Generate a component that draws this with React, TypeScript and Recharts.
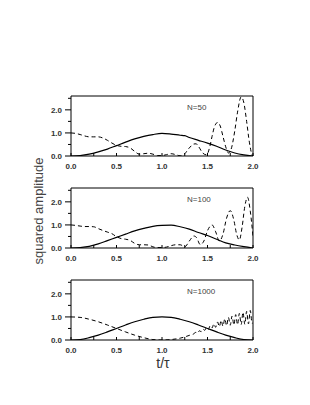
import React from 'react';
import { LineChart, Line, XAxis, YAxis, ReferenceLine } from 'recharts';

// time axis ticks / labels
const xTicks = [0, 0.25, 0.5, 0.75, 1, 1.25, 1.5, 1.75, 2];
const yTicks = [0, 0.5, 1, 1.5, 2, 2.5];

// N=50
const t50Solid = [0, 0.1, 0.2, 0.3, 0.4, 0.5, 0.6, 0.7, 0.8, 0.9, 1.0, 1.1, 1.2, 1.25, 1.3, 1.4, 1.5, 1.6, 1.7, 1.8, 1.9, 2.0];
const solid50 = [0, 0.02, 0.08, 0.18, 0.3, 0.45, 0.6, 0.74, 0.85, 0.93, 0.98, 0.95, 0.9, 0.88, 0.8, 0.68, 0.56, 0.42, 0.26, 0.13, 0.05, 0];
const t50Dash = [0, 0.05, 0.1, 0.15, 0.2, 0.25, 0.3, 0.35, 0.4, 0.45, 0.5, 0.55, 0.6, 0.65, 0.7, 0.75, 0.8, 0.85, 0.9, 0.95, 1.0, 1.05, 1.1, 1.15, 1.2, 1.25, 1.3, 1.35, 1.375, 1.4, 1.45, 1.49, 1.525, 1.55, 1.575, 1.61, 1.64, 1.67, 1.7, 1.73, 1.76, 1.8, 1.83, 1.87, 1.9, 1.93, 1.96, 1.99, 2.0];
const dash50 = [1.0, 0.98, 0.93, 0.87, 0.83, 0.83, 0.83, 0.78, 0.68, 0.56, 0.46, 0.42, 0.41, 0.35, 0.2, 0.08, 0.1, 0.12, 0.08, 0.02, 0.02, 0.06, 0.1, 0.06, 0.01, 0.1, 0.35, 0.52, 0.53, 0.42, 0.12, 0.05, 0.4, 0.85, 1.25, 1.45, 1.3, 0.85, 0.4, 0.13, 0.3, 1.1, 1.9, 2.56, 2.3, 1.5, 0.6, 0.05, 0];

// N=100
const t100Solid = [0, 0.1, 0.2, 0.3, 0.4, 0.5, 0.6, 0.7, 0.8, 0.9, 1.0, 1.1, 1.2, 1.3, 1.4, 1.5, 1.6, 1.7, 1.8, 1.9, 2.0];
const solid100 = [0, 0.02, 0.07, 0.18, 0.32, 0.46, 0.6, 0.74, 0.85, 0.94, 0.98, 0.99, 0.92, 0.82, 0.67, 0.54, 0.38, 0.22, 0.13, 0.06, 0];
const t100Dash = [0, 0.05, 0.1, 0.15, 0.2, 0.25, 0.3, 0.35, 0.4, 0.45, 0.5, 0.55, 0.6, 0.65, 0.7, 0.75, 0.8, 0.85, 0.9, 0.95, 1.0, 1.05, 1.1, 1.15, 1.2, 1.25, 1.3, 1.35, 1.38, 1.42, 1.46, 1.5, 1.55, 1.59, 1.63, 1.67, 1.71, 1.75, 1.79, 1.82, 1.85, 1.88, 1.91, 1.94, 1.97, 2.0];
const dash100 = [1.0, 0.98, 0.95, 0.93, 0.93, 0.92, 0.84, 0.76, 0.69, 0.62, 0.49, 0.41, 0.38, 0.33, 0.2, 0.14, 0.14, 0.13, 0.05, 0.02, 0.02, 0.04, 0.1, 0.14, 0.14, 0.05, 0.3, 0.52, 0.45, 0.15, 0.3, 0.75, 1.0, 0.7, 0.3, 0.6, 1.3, 1.62, 1.2, 0.6, 0.35, 0.9, 1.8, 2.2, 1.6, 0.5];

// N=1000
const t1000Solid = [0, 0.1, 0.2, 0.3, 0.4, 0.5, 0.6, 0.7, 0.8, 0.9, 1.0, 1.1, 1.2, 1.3, 1.4, 1.5, 1.6, 1.7, 1.8, 1.9, 2.0];
const solid1000 = [0, 0.02, 0.1, 0.21, 0.35, 0.5, 0.65, 0.79, 0.9, 0.98, 1.0, 0.98, 0.9, 0.79, 0.65, 0.5, 0.35, 0.21, 0.1, 0.02, 0];
const t1000Dash = [0, 0.1, 0.2, 0.3, 0.4, 0.5, 0.6, 0.7, 0.8, 0.9, 1.0, 1.1, 1.2, 1.3, 1.35, 1.37, 1.39, 1.41, 1.43, 1.45, 1.47, 1.49, 1.51, 1.53, 1.55, 1.57, 1.59, 1.61, 1.63, 1.65, 1.67, 1.69, 1.71, 1.73, 1.75, 1.77, 1.79, 1.81, 1.83, 1.85, 1.87, 1.89, 1.91, 1.93, 1.95, 1.97, 1.99, 2.0];
const dash1000 = [1.0, 0.98, 0.9, 0.79, 0.65, 0.5, 0.35, 0.21, 0.1, 0.02, 0.0, 0.02, 0.08, 0.2, 0.27, 0.33, 0.3, 0.4, 0.36, 0.47, 0.42, 0.55, 0.47, 0.62, 0.52, 0.7, 0.55, 0.78, 0.58, 0.85, 0.6, 0.92, 0.62, 0.98, 0.64, 1.04, 0.65, 1.1, 0.66, 1.15, 0.67, 1.2, 0.68, 1.24, 0.7, 1.28, 0.72, 0.75];

const zip = (t: number[], v: number[]) => t.map((x, i) => ({ t: x, v: v[i] }));

const FONT = '"Liberation Sans", Arial, sans-serif';

const XTick = ({ x, y, payload }: any) => {
  const v = Number(payload.value);
  const major = Math.abs(v * 2 - Math.round(v * 2)) < 1e-6;
  return (
    <g>
      <line x1={x} x2={x} y1={y} y2={y - 3} stroke="#000" />
      {major && (
        <text x={x} y={y + 13} textAnchor="middle" fontSize={8} fontWeight="bold" fill="#333" fontFamily={FONT}>
          {v.toFixed(1)}
        </text>
      )}
    </g>
  );
};

const YTick = ({ x, y, payload }: any) => {
  const v = Number(payload.value);
  const major = Math.abs(v - Math.round(v)) < 1e-6;
  return (
    <g>
      <line x1={x - (major ? 6 : 3)} x2={x} y1={y} y2={y} stroke="#000" />
      {major && (
        <text x={x - 9} y={y + 3} textAnchor="end" fontSize={8} fontWeight="bold" fill="#333" fontFamily={FONT}>
          {v.toFixed(1)}
        </text>
      )}
    </g>
  );
};

const Panel = ({ top, solid, dash, label }: any) => (
  <div style={{ position: 'absolute', left: 0, top: top - 10 }}>
    <LineChart width={310} height={92} margin={{ top: 10, right: 57, left: 0, bottom: 0 }}>
      <XAxis
        dataKey="t"
        type="number"
        domain={[0, 2]}
        ticks={xTicks}
        interval={0}
        tick={<XTick />}
        tickLine={false}
        tickSize={0}
        tickMargin={0}
        height={22}
        stroke="#000"
        allowDataOverflow
      />
      <YAxis
        type="number"
        domain={[0, 2.6]}
        ticks={yTicks}
        interval={0}
        tick={<YTick />}
        tickLine={false}
        tickSize={0}
        tickMargin={0}
        width={71}
        stroke="#000"
        allowDataOverflow
      />
      <ReferenceLine y={2.6} stroke="#000" />
      <ReferenceLine x={2} stroke="#000" />
      <Line data={solid} dataKey="v" stroke="#000" strokeWidth={1.2} dot={false} type="monotone" isAnimationActive={false} />
      <Line data={dash} dataKey="v" stroke="#000" strokeWidth={1} strokeDasharray="4 3" dot={false} type="monotone" isAnimationActive={false} />
    </LineChart>
    <div style={{ position: 'absolute', left: 187, top: 18, fontSize: 8, fontFamily: FONT, color: '#444', lineHeight: '8px' }}>
      {label}
    </div>
  </div>
);

const App = () => (
  <div style={{ position: 'absolute', left: 0, top: 0, width: 310, height: 405, background: '#fff' }}>
    <Panel top={96} solid={zip(t50Solid, solid50)} dash={zip(t50Dash, dash50)} label="N=50" />
    <Panel top={188} solid={zip(t100Solid, solid100)} dash={zip(t100Dash, dash100)} label="N=100" />
    <Panel top={280} solid={zip(t1000Solid, solid1000)} dash={zip(t1000Dash, dash1000)} label="N=1000" />
    <div
      style={{
        position: 'absolute',
        left: 38,
        top: 211,
        transform: 'translate(-50%, -50%) rotate(-90deg)',
        whiteSpace: 'nowrap',
        fontSize: 13,
        fontFamily: FONT,
        color: '#444',
      }}
    >
      squared amplitude
    </div>
    <div
      style={{
        position: 'absolute',
        left: 163,
        top: 363,
        transform: 'translate(-50%, -50%)',
        whiteSpace: 'nowrap',
        fontSize: 14,
        fontFamily: FONT,
        color: '#333',
      }}
    >
      t/τ
    </div>
  </div>
);

export default App;
